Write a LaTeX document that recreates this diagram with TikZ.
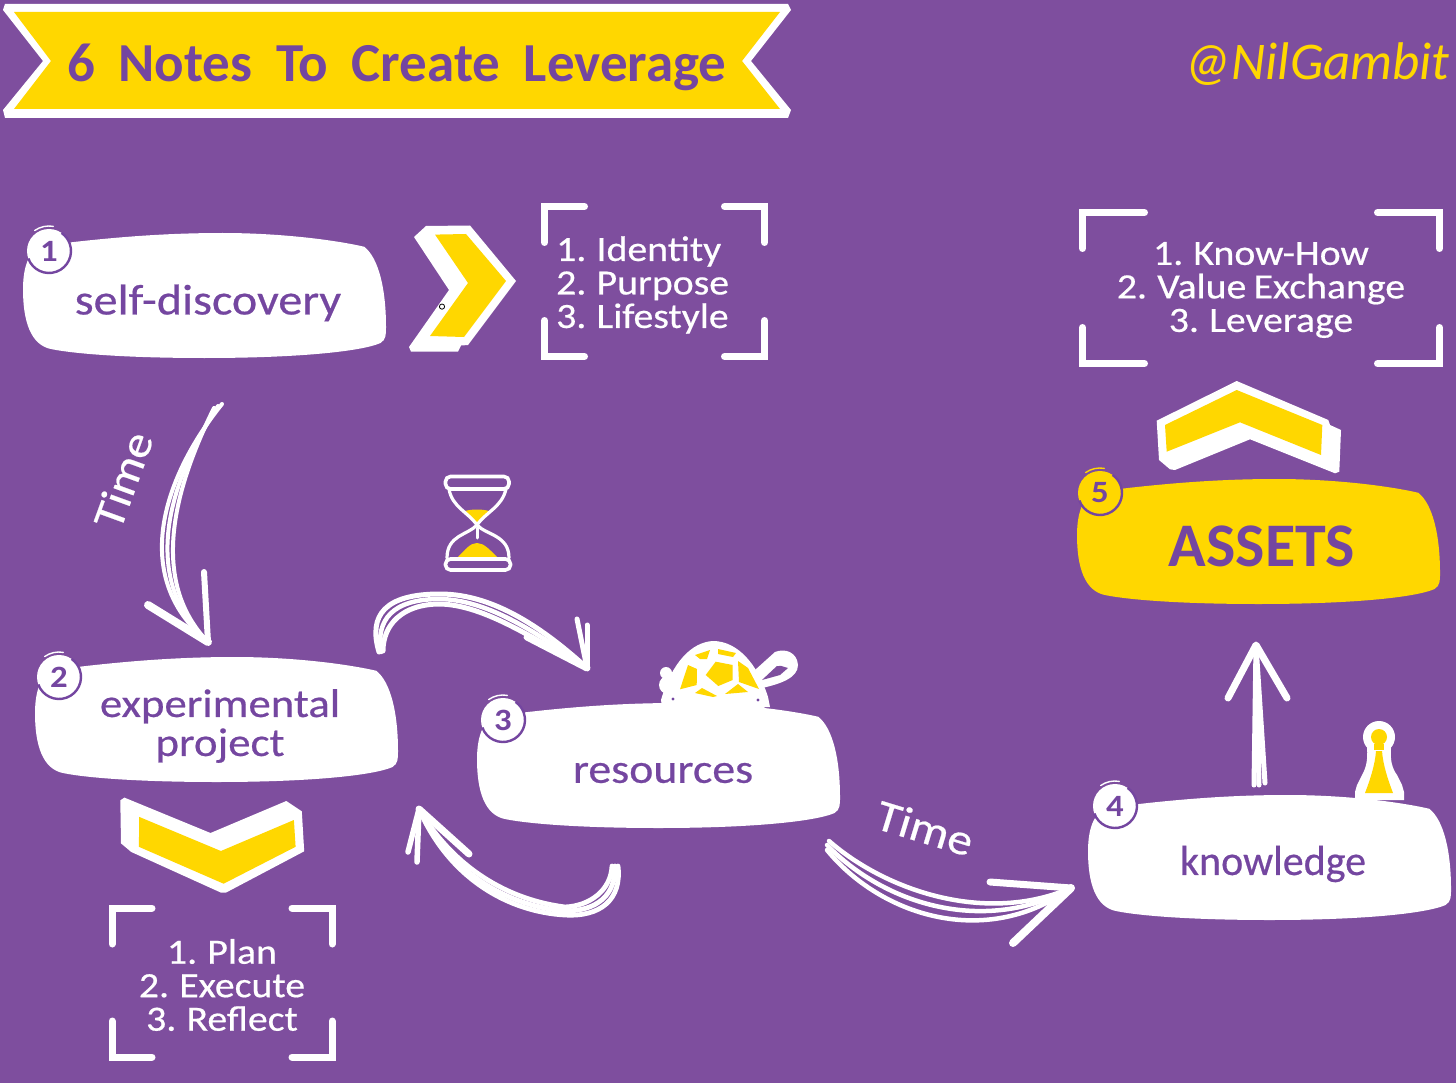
\documentclass[tikz,border=0pt]{standalone}
\usepackage{fontspec}
\setmainfont[FakeStretch=1.12]{Carlito}
\newfontfamily\handfont[FakeStretch=1.12,FakeBold=0.5,WordSpace=0.8]{Carlito}
\newfontfamily\plainfont[FakeBold=0.5]{Carlito}
\newfontfamily\titlefont[WordSpace=1.9]{Carlito}
\usetikzlibrary{calc}
\definecolor{bgp}{HTML}{7E4E9E}
\definecolor{txp}{HTML}{7446A0}
\definecolor{gold}{HTML}{FFD700}
\tikzset{
  brush/.style={draw=white,line width=4pt,line cap=round,line join=round},
  heavy/.style={draw=white,line width=7pt,line cap=round,line join=round},
  corner/.style={draw=white,line width=7pt,line cap=round,line join=miter},
  boxlabel/.style={text=txp,align=center,inner sep=0pt},
  numlabel/.style={text=txp,font=\bfseries\fontsize{31}{31}\selectfont,inner sep=0pt},
  listlabel/.style={text=white,font=\handfont\fontsize{35.5}{33.5}\selectfont,inner sep=0pt},
  timelabel/.style={text=white,font=\handfont\fontsize{44}{44}\selectfont,inner sep=0pt}
}
\newcommand{\myblob}[3]{%
  \begin{scope}[shift={(#1,#2)},x=363pt,y=-125pt]
    \fill[#3] (0,.45) .. controls (0,.25) and (.02,.12) .. (.06,.10)
      .. controls (.25,.03) and (.4,0) .. (.55,0)
      .. controls (.7,0) and (.85,.05) .. (.94,.11)
      .. controls (.98,.2) and (1,.45) .. (1,.75)
      .. controls (1,.82) and (1,.85) .. (.985,.88)
      .. controls (.93,.95) and (.75,1) .. (.5,1)
      .. controls (.3,1) and (.15,.97) .. (.08,.93)
      .. controls (.02,.9) and (0,.7) .. (0,.45) -- cycle;
  \end{scope}}
\newcommand{\mybadge}[5]{% name x y fill digit
  \fill[#4] (#2,#3) circle (22);
  \draw[txp,line width=2.4pt] (#2,#3) ++(160:22) arc (160:-55:22);
  \draw[#4,line width=1.4pt,line cap=round] (#2,#3) ++(-125:25) arc (-125:-80:25);
  \node[numlabel] (#1) at (#2,#3) {#5};}
\newcommand{\mybrackets}[6]{% x0 y0 x1 y1 armx army
  \draw[corner] (#1+#5,#2) -- (#1,#2) -- (#1,#2+#6);
  \draw[corner] (#3-#5,#2) -- (#3,#2) -- (#3,#2+#6);
  \draw[corner] (#1+#5,#4) -- (#1,#4) -- (#1,#4-#6);
  \draw[corner] (#3-#5,#4) -- (#3,#4) -- (#3,#4-#6);}
\begin{document}
\begin{tikzpicture}[x=1pt,y=-1pt]
\useasboundingbox (0,0) rectangle (1456,1083);
\fill[bgp] (0,0) rectangle (1456,1083);

% banner
\fill[white] (3,10) -- (5,4) -- (788,4) -- (791,10) -- (751,61) -- (791,110) -- (788,118) -- (5,118) -- (3,110) -- (43,61) -- cycle;
\fill[gold] (14,12) -- (780,12) -- (742,61) -- (780,109) -- (14,109) -- (51,61) -- cycle;
\node[text=txp,inner sep=0pt,anchor=base west,font=\titlefont\bfseries\fontsize{55}{55}\selectfont] (title) at (67,82) {6 Notes To Create Leverage};
\node[text=gold,inner sep=0pt,anchor=base east,font=\titlefont\itshape\fontsize{53}{53}\selectfont] (handle) at (1450,80) {@NilGambit};

% blobs
\myblob{23}{233}{white}
\myblob{35}{657}{white}
\myblob{477}{703}{white}
\myblob{1088}{795}{white}
\myblob{1077}{479}{gold}

% pawn
\fill[white] (1379,737) circle (16);
\fill[white] (1367,748) -- (1391,748) .. controls (1390,760) and (1392,768) .. (1397,775) -- (1402,785) -- (1404,792) -- (1404,800) -- (1355,800) -- (1355,792) -- (1357,785) -- (1362,775) .. controls (1366,768) and (1368,760) .. (1367,748) -- cycle;
\fill[gold] (1379,737) circle (8);
\fill[gold] (1374,744) rectangle (1384,750);
\fill[gold] (1376,751) -- (1382,751) .. controls (1383,765) and (1388,780) .. (1393,793) -- (1365,793) .. controls (1370,780) and (1375,765) .. (1376,751) -- cycle;

% turtle
\fill[white] (661,700) .. controls (672,662) and (692,642) .. (713,641) .. controls (738,641) and (758,665) .. (768,697) -- (770,707) -- (662,707) -- cycle;
\fill[white] (666,673) circle (6) (668,685) circle (9) (673,699) circle (9) (758,700) circle (10);
\fill[white] (755,670) -- (775,652) .. controls (785,648) and (797,652) .. (798,665) .. controls (798,678) and (780,684) .. (762,688) -- cycle;
\fill[bgp] (762,680) -- (778,665) -- (788,668) -- (780,675) -- cycle;
\fill[white] (778,660) circle (6);
\fill[txp] (673,699) circle (1.6) (758,700) circle (1.6);
\fill[gold] (715.7,661.7) -- (732.7,665) -- (732.7,680) -- (718.3,686) -- (705.7,675) -- cycle;
\fill[gold] (688,665) -- (697,669) -- (696.7,685) -- (680,689.3) -- cycle;
\fill[gold] (695,655) -- (710,650) -- (707,659) -- (700,659) -- cycle;
\fill[gold] (718,649) -- (736,653) -- (733,657) -- (718,654) -- cycle;
\fill[gold] (738,661) -- (748,668) -- (759,689) -- (739,682) -- cycle;
\fill[gold] (695,693) -- (702,688) -- (717,696) -- (713,697) -- cycle;
\fill[gold] (725,694) -- (738,684) -- (748,692) -- cycle;

\node[boxlabel,font=\handfont\fontsize{43}{43}\selectfont] (n1) at (208,303) {self-discovery};
\node[boxlabel,font=\handfont\fontsize{40}{40}\selectfont] (n2) at (220,726) {experimental\\[-1pt]project};
\node[boxlabel,font=\handfont\fontsize{41}{41}\selectfont] (n3) at (663,773) {resources};
\node[boxlabel,font=\plainfont\fontsize{42}{42}\selectfont] (n4) at (1273,864) {knowledge};
\node[boxlabel,font=\titlefont\bfseries\fontsize{62}{62}\selectfont] (n5) at (1262,546) {ASSETS};

\mybadge{b1}{49}{251}{white}{1}
\mybadge{b2}{59}{677}{white}{2}
\mybadge{b3}{503}{720}{white}{3}
\mybadge{b4}{1115}{806}{white}{4}
\mybadge{b5}{1100}{493}{gold}{5}

% chevrons
\fill[white] (414,237) -- (426,226) -- (470,225.5) -- (516,281) -- (468,345) -- (461,345.5) -- (458,351.6) -- (411,351.6) -- (409,347) -- (449,290) -- cycle;
\fill[gold] (435,234.6) -- (466,234) -- (506,281) -- (464,337) -- (430,336) -- (468,283) -- cycle;
\draw[black,fill=white,line width=.8pt] (442,306.6) circle (2.6);

\fill[white] (1156.7,420.7) -- (1236.7,381) -- (1328.3,420) -- (1330,425) -- (1341,430) -- (1339.3,471.7) -- (1335,473.3) -- (1250,439.3) -- (1175,470) -- (1170,469.3) -- (1159,460) -- cycle;
\fill[gold] (1165,425) -- (1236.7,390) -- (1322.3,425) -- (1321,455) -- (1240,422.3) -- (1166.7,451.7) -- cycle;

\fill[white] (120.3,800.3) -- (124.4,797.6) -- (210.5,833) -- (286.3,801) -- (301.8,811.3) -- (304.2,851.3) -- (226,892.6) -- (220.9,892.6) -- (131.3,852) -- (121,843.4) -- cycle;
\fill[gold] (139.2,816.9) -- (220.9,851) -- (293.9,820) -- (295.6,846.8) -- (223.6,883.7) -- (138.9,846.8) -- cycle;

% brackets and lists
\mybrackets{544.5}{206.5}{764.5}{356.5}{40}{36}
\mybrackets{1082.5}{212.5}{1439.5}{363.5}{62}{36}
\mybrackets{112}{908}{332}{1057}{40}{36}

\node[listlabel,align=left,anchor=west] (l1) at (556,285) {1. Identity\\2. Purpose\\3. Lifestyle};
\node[listlabel,align=center] (l2) at (1261,290) {1. Know-How\\2. Value Exchange\\3. Leverage};
\node[listlabel,align=center] (l3) at (222,985) {1. Plan\\2. Execute\\3. Reflect};

% hourglass
\fill[gold] (465,511) .. controls (472,509) and (482,509) .. (489,511) -- (477,523) -- cycle;
\fill[gold] (458,557) .. controls (465,550) and (470,543) .. (477,543) .. controls (484,543) and (490,550) .. (497,557) -- cycle;
\draw[white,line width=3.6pt,rounded corners=5pt] (445.5,476.5) rectangle (509,489);
\draw[white,line width=3.6pt,rounded corners=5pt] (445.5,559) rectangle (510.5,570);
\draw[white,line width=3.2pt,line cap=round] (449,489) .. controls (452,507) and (468,512) .. (477,525) .. controls (486,512) and (502,507) .. (506,489);
\draw[white,line width=3.2pt,line cap=round] (447,558) .. controls (447,535) and (468,535) .. (477,525) .. controls (486,535) and (509,535) .. (509,558);
\draw[white,line width=3pt,line cap=round] (477,528) -- (477,538);

% arrow 1
\coordinate (a1a) at (222,404);
\coordinate (a1b) at (218,406);
\coordinate (a1c) at (214,408);
\coordinate (a1t) at (208,642);
\coordinate (a1l) at (148,605);
\coordinate (a1r) at (204,572);
\draw[brush] (a1a) .. controls (165,475) and (128,576) .. (a1t);
\draw[brush] (a1b) .. controls (173,475) and (136,576) .. (a1t);
\draw[brush] (a1c) .. controls (181,475) and (144,576) .. (a1t);
\draw[heavy,line width=8pt] (a1l) -- (a1t);
\draw[brush,line width=6pt] (a1r) -- (a1t);

% arrow 2
\coordinate (a2a) at (379,652);
\coordinate (a2b) at (381,652);
\coordinate (a2c) at (383,651);
\coordinate (a2t) at (587,668);
\coordinate (a2l) at (527,637);
\coordinate (a2r) at (577,619);
\coordinate (a2s) at (587,625);
\draw[brush,line width=5pt] (a2a) .. controls (368,615) and (385,594) .. (440,594) .. controls (495,594) and (545,630) .. (a2t);
\draw[brush,line width=4.5pt] (a2b) .. controls (376,620) and (392,599) .. (440,599) .. controls (490,600) and (540,635) .. (a2t);
\draw[brush,line width=5pt] (a2c) .. controls (383,625) and (402,604) .. (440,604) .. controls (485,605) and (535,640) .. (a2t);
\draw[heavy] (a2l) -- (a2t);
\draw[brush,line width=5pt] (a2r) -- (a2t);
\draw[brush,line width=5pt] (a2s) -- (a2t);

% arrow 3
\coordinate (a3a) at (618,866);
\coordinate (a3b) at (615,866);
\coordinate (a3c) at (612,866);
\coordinate (a3t) at (419,809);
\coordinate (a3l) at (408,852);
\coordinate (a3m) at (417,862);
\coordinate (a3r) at (469,854);
\draw[brush,line width=4.8pt] (a3a) .. controls (622,900) and (600,917) .. (565,915) .. controls (510,912) and (450,880) .. (a3t);
\draw[brush,line width=4.8pt] (a3b) .. controls (616,895) and (597,911) .. (565,911) .. controls (510,906) and (452,876) .. (a3t);
\draw[brush,line width=4.8pt] (a3c) .. controls (611,890) and (590,906) .. (565,907) .. controls (510,900) and (455,870) .. (a3t);
\draw[brush,line width=5.5pt] (a3l) -- (a3t);
\draw[brush,line width=5.5pt] (a3m) -- (a3t);
\draw[heavy] (a3r) -- (a3t);

% arrow 4
\coordinate (a4a) at (829,841);
\coordinate (a4b) at (827,845);
\coordinate (a4c) at (827,850);
\coordinate (a4t) at (1071,888);
\coordinate (a4u) at (990,882);
\coordinate (a4d) at (1013,943);
\draw[brush,line width=4.5pt] (a4a) .. controls (885,890) and (985,925) .. (a4t);
\draw[brush,line width=4.5pt] (a4b) .. controls (885,905) and (985,935) .. (a4t);
\draw[brush,line width=4.5pt] (a4c) .. controls (880,915) and (985,950) .. (a4t);
\draw[heavy] (a4u) -- (a4t);
\draw[heavy,line width=8pt] (a4d) -- (a4t);

% arrow 5
\coordinate (a5a) at (1254,785);
\coordinate (a5b) at (1259,785);
\coordinate (a5c) at (1265,783);
\coordinate (a5t) at (1256,645);
\coordinate (a5l) at (1228,698);
\coordinate (a5r) at (1287,698);
\draw[brush,line width=5pt] (a5a) -- (a5t);
\draw[brush,line width=5pt] (a5b) -- (a5t);
\draw[brush,line width=5pt] (a5c) -- (a5t);
\draw[heavy] (a5l) -- (a5t) -- (a5r);

\node[timelabel,rotate=70] (t1) at (123,480) {Time};
\node[timelabel,rotate=-17] (t2) at (925,828) {Time};
\end{tikzpicture}
\end{document}
